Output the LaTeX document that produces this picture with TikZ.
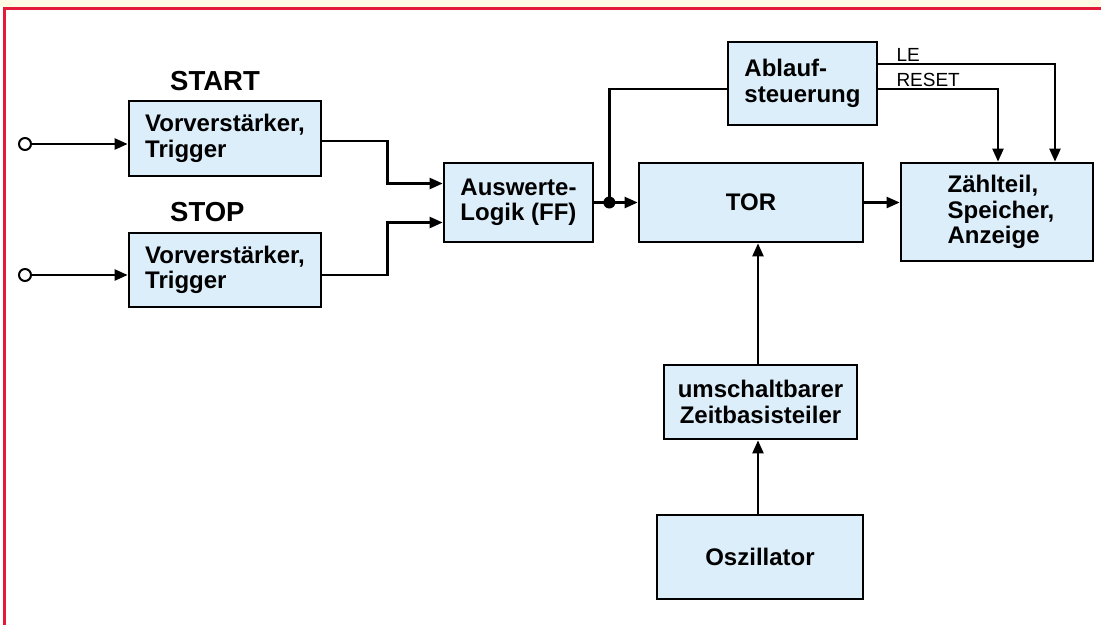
\documentclass[tikz,border=0pt]{standalone}
\usepackage{fontspec}
\setmainfont{Liberation Sans}
\usepackage{tikz}
\usetikzlibrary{arrows.meta}
\definecolor{boxblue}{RGB}{221,238,251}
\definecolor{framered}{RGB}{228,26,58}
\definecolor{cream}{RGB}{255,250,228}

\begin{document}
\begin{tikzpicture}[x=1pt,y=-1pt]
\tikzstyle{box}=[draw,line width=2.7pt,fill=boxblue,align=left,inner sep=0pt,font=\bfseries\fontsize{24}{25.5}\selectfont];
\tikzstyle{lab}=[inner sep=0pt,font=\bfseries\fontsize{27.5}{30}\selectfont];
\tikzstyle{sig}=[inner sep=0pt,font=\fontsize{19}{20}\selectfont];
\tikzstyle{wire}=[line width=2.3pt];
\tikzstyle{arr}=[line width=2.3pt,-{Triangle[length=13pt,width=11pt]}];
\tikzstyle{pin}=[circle,draw,fill=white,line width=2pt,minimum size=12pt,inner sep=0pt];

% frame
\useasboundingbox (0,0) rectangle (1101,625);
\fill[cream] (0,0) rectangle (1101,7);
\draw[framered,line width=3pt] (4,625) -- (4,8.5) -- (1101,8.5);

% inputs
\node [lab,anchor=base west] (startlab) at (170,90) {START};
\node [lab,anchor=base west] (stoplab) at (170,221) {STOP};
\node [box,minimum width=192,minimum height=75] (startamp) at (225,138.5) {Vorverstärker,\\Trigger};
\node [box,minimum width=192,minimum height=74] (stopamp) at (225,270) {Vorverstärker,\\Trigger};
\node [pin] (startin) at (25,144) {};
\node [pin] (stopin) at (25,275) {};

\node [box,minimum width=149,minimum height=79] (logik) at (518.5,202.5) {Auswerte-\\Logik (FF)};
\node [box,minimum width=149,minimum height=83] (ablauf) at (802.5,83.5) {Ablauf-\\steuerung};
\node [box,minimum width=224,minimum height=79] (tor) at (751,202.5) {TOR};
\node [box,minimum width=192,minimum height=98] (zaehl) at (997,212) {\hspace*{8pt}Zählteil,\\\hspace*{8pt}Speicher,\\\hspace*{8pt}Anzeige};
\node [box,minimum width=193,minimum height=74,align=center] (teiler) at (760.5,402) {umschaltbarer\\Zeitbasisteiler};
\node [box,minimum width=206,minimum height=84] (osz) at (760,557) {Oszillator};

\coordinate (split) at ([xshift=15pt]logik.east);

% connections
\draw [arr] (startin) -- (startin -| startamp.west);
\draw [arr] (stopin) -- (stopin -| stopamp.west);
\draw [arr] ([yshift=-2.5pt]startamp.east) -- ++(65,0) |- ([yshift=19pt]logik.west);
\draw [arr] ([yshift=-5pt]stopamp.east) -- ++(65,0) |- ([yshift=-20pt]logik.west);
\draw [arr] (logik.east) -- (tor.west);
\fill (split) circle (6pt);
\draw [wire] (split) |- ([yshift=-5.5pt]ablauf.west);
\draw [arr] (tor.east) -- (tor.east -| zaehl.west);
\draw [arr] ([yshift=19.5pt]ablauf.east) -| ([xshift=58pt]zaehl.north)
  node [sig,anchor=base west,pos=0,xshift=17pt,yshift=3pt] (le) {LE};
\draw [arr] ([yshift=-5.5pt]ablauf.east) -| ([xshift=1pt]zaehl.north)
  node [sig,anchor=base west,pos=0,xshift=17pt,yshift=3pt] (reset) {RESET};
\draw [arr] ([xshift=-2.5pt]teiler.north) -- ([xshift=-2.5pt]teiler.north |- tor.south);
\draw [arr] ([xshift=-2pt]osz.north) -- ([xshift=-2pt]osz.north |- teiler.south);
\end{tikzpicture}
\end{document}
